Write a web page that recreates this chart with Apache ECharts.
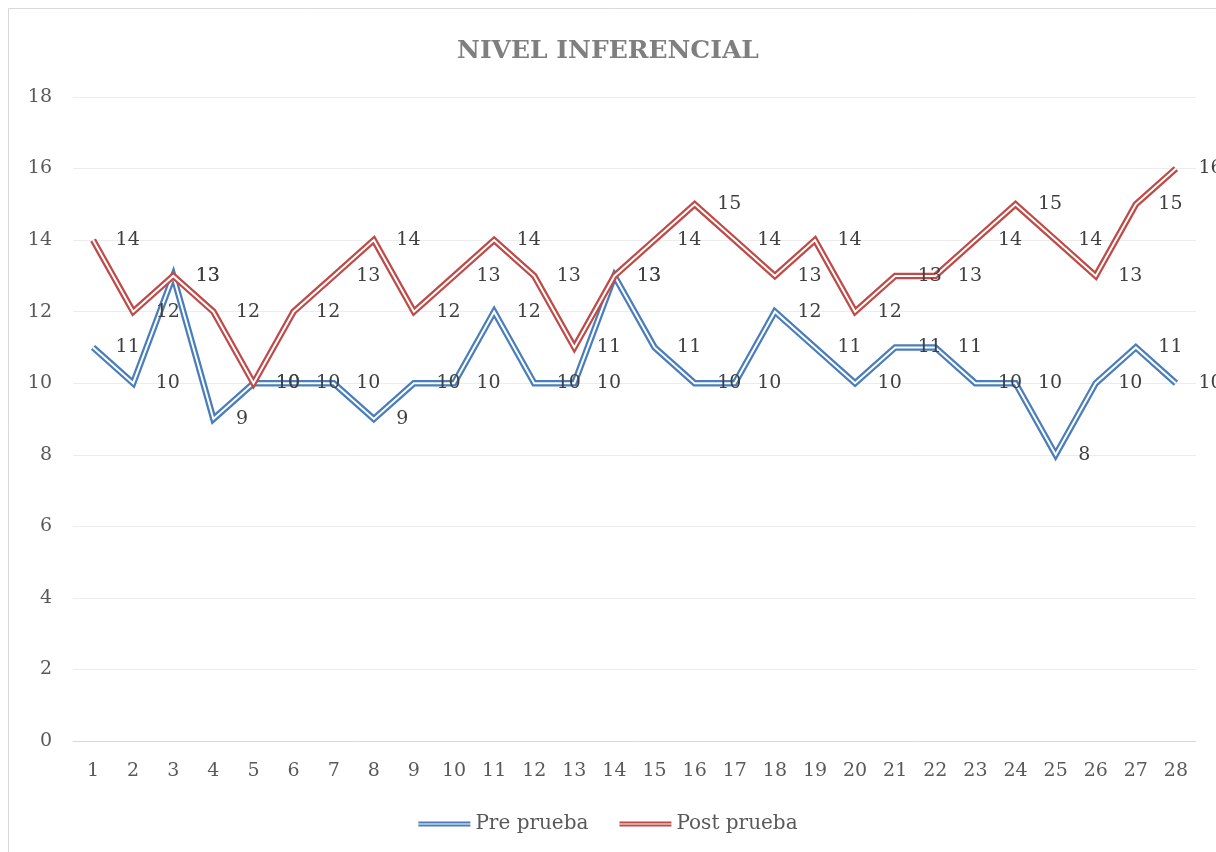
<!DOCTYPE html>
<html>
<head>
<meta charset="utf-8">
<script src="https://cdn.jsdelivr.net/npm/echarts@6/dist/echarts.min.js"></script>
<style>
html,body{margin:0;padding:0;background:#fff;}
#chart{width:1216px;height:852px;}
</style>
</head>
<body>
<div id="chart"></div>
<script>
var categories = ['1','2','3','4','5','6','7','8','9','10','11','12','13','14','15','16','17','18','19','20','21','22','23','24','25','26','27','28'];
var preValues  = [11,10,13,9,10,10,10,9,10,10,12,10,10,13,11,10,10,12,11,10,11,11,10,10,8,10,11,10];
var postValues = [14,12,13,12,10,12,13,14,12,13,14,13,11,13,14,15,14,13,14,12,13,13,14,15,14,13,15,16];
var seriesNames = ['Pre prueba','Post prueba'];
var colors = ['#4a7ebb','#be4b48'];
var yTicks = {min:0, max:18, interval:2};

var FONT = 'DejaVu Serif';
var chart = echarts.init(document.getElementById('chart'));

function outer(name, data, color, z){
  return {name:name, type:'line', data:data, z:z, symbol:'none', silent:true,
    lineStyle:{color:color, width:6.5, join:'miter', cap:'butt'}, itemStyle:{color:color},
    animation:false};
}
function inner(name, data, z){
  return {name:name+' ', type:'line', data:data, z:z, symbol:'circle', symbolSize:1,
    showSymbol:true, silent:true,
    lineStyle:{color:'#ffffff', width:2, join:'miter', cap:'butt'},
    itemStyle:{color:'rgba(0,0,0,0)'},
    label:{show:true, position:'right', distance:22, color:'#404040',
      fontFamily:FONT, fontSize:19},
    labelLayout:{hideOverlap:false},
    animation:false};
}
var iconPath = 'path://M0,0H52V2H0Z M0,3.2H52V5.2H0Z';

chart.setOption({
  backgroundColor:'#ffffff',
  color: colors,
  graphic:[{type:'rect', left:6, top:6, shape:{width:1240, height:870},
    style:{fill:'none', stroke:'#d9d9d9', lineWidth:1}, silent:true}],
  title:{text:'NIVEL INFERENCIAL', left:'center', top:34,
    textStyle:{fontFamily:FONT, fontSize:25, fontWeight:'bold', color:'#7f7f7f'}},
  legend:{bottom:13, left:'center', itemWidth:52, itemHeight:5.2, itemGap:31,
    data:[{name:seriesNames[0], icon:iconPath},{name:seriesNames[1], icon:iconPath}],
    textStyle:{fontFamily:FONT, fontSize:20, color:'#595959'}},
  grid:{left:73, right:20, top:97, bottom:111, containLabel:false},
  xAxis:{type:'category', data:categories, boundaryGap:true,
    axisLine:{lineStyle:{color:'#d9d9d9', width:1}},
    axisTick:{show:false},
    axisLabel:{fontFamily:FONT, fontSize:19, color:'#595959', margin:21, interval:0}},
  yAxis:{type:'value', min:yTicks.min, max:yTicks.max, interval:yTicks.interval,
    axisLine:{show:false}, axisTick:{show:false},
    splitLine:{lineStyle:{color:'#ececec', width:1}},
    axisLabel:{fontFamily:FONT, fontSize:19, color:'#595959', margin:21}},
  series:[
    outer(seriesNames[0], preValues, colors[0], 2),
    inner(seriesNames[0], preValues, 3),
    outer(seriesNames[1], postValues, colors[1], 4),
    inner(seriesNames[1], postValues, 5)
  ]
});
</script>
</body>
</html>
